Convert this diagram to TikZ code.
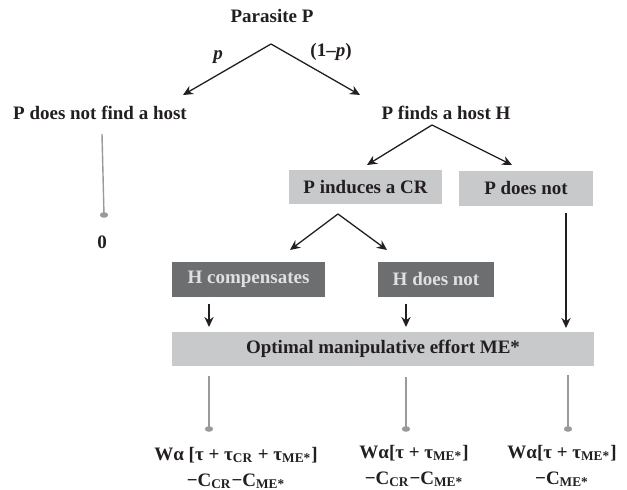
\documentclass[tikz,border=0pt]{standalone}
\usepackage{fontspec}
\setmainfont{Liberation Serif}
\usetikzlibrary{arrows.meta}

\definecolor{boxlight}{HTML}{C8C9CB}
\definecolor{boxdark}{HTML}{6D6E70}
\definecolor{ink}{HTML}{231F20}
\definecolor{stem}{HTML}{9A9A9A}

\begin{document}
\begin{tikzpicture}[x=0.5pt, y=-0.5pt, font=\fontsize{9.5}{13}\selectfont\bfseries,
	>={Stealth[length=5pt, width=4.6pt]}, text=ink,
	arr/.style={->, draw=ink, line width=0.65pt},
	stem/.style={draw=stem, line width=0.7pt},
	stemdot/.style={fill=stem},
	lightbox/.style={fill=boxlight, inner sep=0pt},
	darkbox/.style={fill=boxdark, text=white!88!black, inner sep=0pt},
	pay/.style={align=center, inner sep=0pt}]

	%% draw help lines
	% \draw[step=20, help lines] (0,0) grid (627,490);
	\useasboundingbox (0,0) rectangle (627,490);

	%% root and first split
	\node (parasite) at (272,16) {Parasite P};
	\node (nohost) at (100,113) {P does not find a host};
	\node (host) at (446,113) {P finds a host H};
	\node at (218,57) {\itshape p};
	\node at (331,52) {(1–\textit{p})};

	\coordinate (top1) at (271,44);
	\coordinate (tipA) at (183,95);
	\coordinate (tipB) at (360,95);
	\draw[arr] (top1) -- (tipA);
	\draw[arr] (top1) -- (tipB);

	%% left branch ends
	\coordinate (stem0) at (102,134);
	\coordinate (dot0) at (104,215);
	\draw[stem] (stem0) -- (dot0);
	\fill[stemdot] (dot0) ellipse [x radius=2.1pt, y radius=1.4pt];
	\node (zero) at (102,242) {0};

	%% second split
	\node[lightbox, minimum width=76.5pt, minimum height=17pt] (induce) at (365.5,187) {P induces a CR};
	\node[lightbox, minimum width=67pt, minimum height=17.5pt] (pnot) at (526,188.5) {P does not};

	\coordinate (top2) at (432,125);
	\coordinate (tipC) at (367,165);
	\coordinate (tipD) at (512,165);
	\draw[arr] (top2) -- (tipC);
	\draw[arr] (top2) -- (tipD);

	%% host response
	\node[darkbox, minimum width=76.5pt, minimum height=17.5pt] (hcomp) at (248.5,279.5) {H compensates};
	\node[darkbox, minimum width=58pt, minimum height=17.5pt] (hnot) at (436,279.5) {H does not};

	\coordinate (top3) at (338,214);
	\coordinate (tipE) at (290,250);
	\coordinate (tipF) at (387,250);
	\draw[arr] (top3) -- (tipE);
	\draw[arr] (top3) -- (tipF);

	%% optimal effort
	\node[lightbox, minimum width=211pt, minimum height=17pt] (optimal) at (383,349) {Optimal manipulative effort ME*};

	\draw[arr] (209,304) -- (209,327);
	\draw[arr] (406,304) -- (406,327);
	\draw[arr] (566,213) -- (566,328);

	%% payoffs
	\foreach \x/\b in {209/376, 406/377, 568/375} {
		\draw[stem] (\x,\b) -- (\x,428);
		\fill[stemdot] (\x,429) ellipse [x radius=2.1pt, y radius=1.4pt];
	}

	\node[pay] (payA) at (236,468) {Wα [τ + τ\textsubscript{CR} + τ\textsubscript{ME*}]\\−C\textsubscript{CR}−C\textsubscript{ME*}};
	\node[pay] (payB) at (414,466) {Wα[τ + τ\textsubscript{ME*}]\\−C\textsubscript{CR}−C\textsubscript{ME*}};
	\node[pay] (payC) at (562,466) {Wα[τ + τ\textsubscript{ME*}]\\−C\textsubscript{ME*}};

\end{tikzpicture}
\end{document}
